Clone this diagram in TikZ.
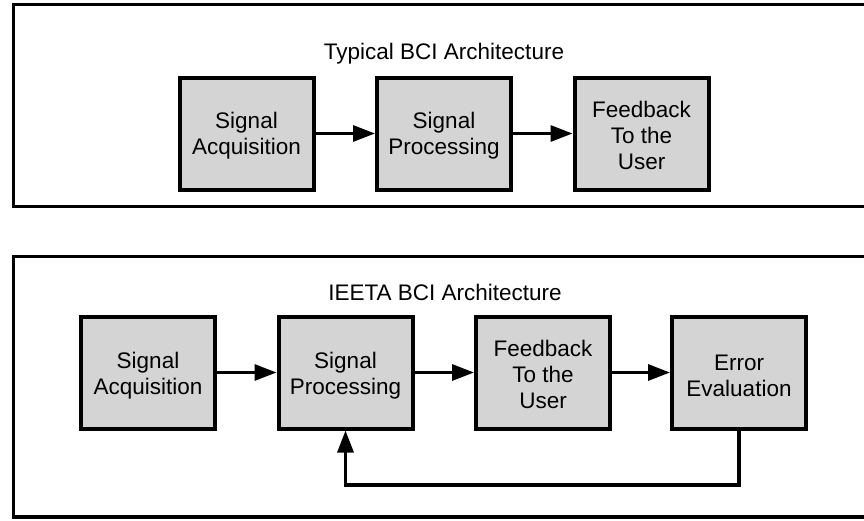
\documentclass[tikz,border=0pt]{standalone}
\usepackage{fontspec}
\setmainfont{Liberation Sans}
\usetikzlibrary{arrows.meta}
\begin{document}
\begin{tikzpicture}[x=1pt,y=-1pt,
  frame/.style={draw=black, line width=3.5pt},
  blk/.style={draw=black, line width=4pt, fill=black!17, minimum width=134pt, minimum height=112pt, inner sep=0pt, align=center, font=\fontsize{22.5}{26}\selectfont},
  lbl/.style={align=center, inner sep=0pt, font=\fontsize{22.5}{26}\selectfont},
  conn/.style={line width=3.2pt, -{Triangle[length=22pt,width=16pt]}},
  ttl/.style={font=\fontsize{22.5}{26}\selectfont}]
\useasboundingbox (0,0) rectangle (864,520);
% frames
\draw[frame] (13.5,4.5) rectangle (872,206.5);
\draw[frame] (13.5,256.5) rectangle (872,517);
% top diagram
\node[ttl] (t1) at (444,54) {Typical BCI Architecture};
\node[blk] (a1) at (246.5,133.5) {};
\node[blk] (p1) at (444,133.5) {};
\node[blk] (f1) at (641.5,133.5) {};
\node[lbl] (a1t) at (246.5,136) {Signal\\Acquisition};
\node[lbl] (p1t) at (444,136) {Signal\\Processing};
\node[lbl] (f1t) at (641.5,135) {Feedback\\To the\\User};
\draw[conn] (a1) -- (p1);
\draw[conn] (p1) -- (f1);
% bottom diagram
\node[ttl] (t2) at (445,292) {IEETA BCI Architecture};
\node[blk] (a2) at (148,372.5) {};
\node[blk] (p2) at (345.5,372.5) {};
\node[blk] (f2) at (543,372.5) {};
\node[blk] (e2) at (739,372.5) {};
\node[lbl] (a2t) at (148,375.5) {Signal\\Acquisition};
\node[lbl] (p2t) at (345.5,375.5) {Signal\\Processing};
\node[lbl] (f2t) at (543,374) {Feedback\\To the\\User};
\node[lbl] (e2t) at (739,375.5) {Error\\Evaluation};
\draw[conn] (a2) -- (p2);
\draw[conn] (p2) -- (f2);
\draw[conn] (f2) -- (e2);
\coordinate (lp) at (345.5,485);
\draw[conn] (e2.south) |- (lp) -- (p2.south);
\end{tikzpicture}
\end{document}
